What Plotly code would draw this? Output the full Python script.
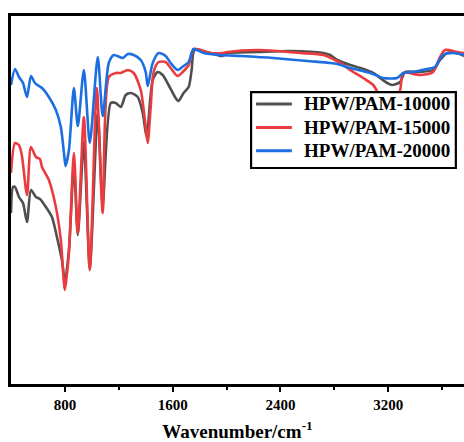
import plotly.graph_objects as go

# Wavenumber (cm^-1) and transmittance (a.u.)
wn_10000 = [400, 415, 430, 459, 489, 519, 548, 585, 615, 659, 704, 741, 778, 800, 830, 867, 896, 941, 985,
            1044, 1081, 1141, 1178, 1215, 1252, 1289, 1341, 1378, 1407, 1452, 1489, 1526, 1570, 1622, 1644,
            1681, 1719, 1741, 1763, 1881, 1970, 2007, 2230, 2474, 2719, 2770, 2822, 2919, 2993, 3089, 3193,
            3230, 3289, 3326, 3415, 3533, 3585, 3637, 3711, 3763]
t_10000 = [171, 197, 197, 187, 181, 162, 194, 187, 185, 177, 167, 147, 124, 102, 134, 219, 149, 242, 116,
           271, 179, 281, 281, 277, 289, 291, 287, 271, 247, 304, 312, 309, 299, 286, 283,
           291, 297, 314, 334, 331, 328, 331, 332, 333, 331, 329, 324, 319, 316, 311, 301,
           299, 302, 312, 312, 314, 324, 331, 331, 328]

wn_15000 = [400, 430, 459, 480, 519, 548, 585, 615, 630, 681, 733, 770, 800, 830, 867, 896, 941, 985,
            1037, 1081, 1126, 1178, 1215, 1267, 1311, 1363, 1400, 1415, 1437, 1459, 1496, 1548, 1585,
            1637, 1674, 1719, 1756, 1881, 1970, 2007, 2230, 2378, 2548, 2719, 2844, 2941, 3015, 3089,
            3141, 3190, 3250, 3289, 3311, 3437, 3533, 3585, 3622, 3711, 3763]
t_15000 = [211, 241, 239, 229, 189, 237, 227, 225, 217, 204, 177, 144, 94, 131, 231, 151, 267, 114,
           296, 171, 307, 311, 311, 314, 311, 294, 257, 241, 277, 312, 322, 322, 316,
           308, 312, 319, 335, 331, 331, 332, 334, 333, 331, 329, 321, 312, 306, 299,
           287, 279, 284, 294, 311, 309, 312, 327, 334, 332, 331]

wn_20000 = [400, 430, 459, 489, 519, 548, 578, 607, 630, 681, 733, 770, 793, 805, 830, 867, 896, 941, 985,
            1044, 1081, 1126, 1163, 1230, 1267, 1311, 1363, 1400, 1415, 1452, 1496, 1548, 1585, 1637,
            1681, 1719, 1756, 1830, 1956, 2104, 2348, 2600, 2770, 2822, 2919, 3067, 3163, 3267, 3311,
            3385, 3489, 3548, 3570, 3607, 3681, 3763]
t_20000 = [299, 315, 307, 301, 287, 308, 301, 298, 296, 287, 274, 257, 231, 218, 234, 296, 258, 314, 241,
           327, 268, 321, 329, 326, 330, 329, 324, 312, 298, 321, 331, 328, 321, 314,
           318, 322, 335, 331, 329, 328, 326, 323, 321, 320, 316, 311, 306, 306, 311,
           312, 315, 317, 322, 329, 331, 329]

names = ["HPW/PAM-10000", "HPW/PAM-15000", "HPW/PAM-20000"]
colors = ["#4f4f4f", "#ec3b3f", "#1c6fe0"]
xs = [wn_10000, wn_15000, wn_20000]
ys = [t_10000, t_15000, t_20000]

x_ticks = [800, 1600, 2400, 3200]

fig = go.Figure()
for n, c, x, y in zip(names, colors, xs, ys):
    fig.add_trace(go.Scatter(x=x, y=y, mode="lines", name=n, showlegend=False,
                             line=dict(color=c, width=2.6, shape="spline", smoothing=0.7)))

# Boxed legend (drawn to match the reference's compact row spacing)
fig.add_shape(type="rect", xref="paper", yref="paper", x0=0.530, x1=0.982, y0=0.587, y1=0.793,
              line=dict(color="black", width=2.2), fillcolor="white", layer="above")
row_y = [0.761, 0.697, 0.634]
for n, c, ry in zip(names, colors, row_y):
    fig.add_shape(type="line", xref="paper", yref="paper", x0=0.541, x1=0.620, y0=ry, y1=ry,
                  line=dict(color=c, width=3), layer="above")
    fig.add_annotation(xref="paper", yref="paper", x=0.643, y=ry, xanchor="left", yanchor="middle",
                       text=n, showarrow=False,
                       font=dict(family="Liberation Serif", size=19, color="black", weight="bold"))

fig.update_layout(
    width=464, height=442,
    margin=dict(l=11, r=0, t=16, b=58),
    plot_bgcolor="white", paper_bgcolor="white",
    showlegend=False,
    xaxis=dict(range=[400, 3763], tickvals=x_ticks, ticktext=[str(v) for v in x_ticks],
               ticks="outside", ticklen=5, tickwidth=2, tickcolor="black",
               minor=dict(tickvals=[1200, 2000, 2800, 3600], ticks="outside", ticklen=3, tickwidth=2, tickcolor="black"),
               showline=True, linecolor="black", linewidth=2.5, mirror=True,
               showgrid=False, zeroline=False,
               tickfont=dict(family="Liberation Serif", size=15, color="black", weight="bold"),
               title=dict(text="Wavenumber/cm<sup>-1</sup>", standoff=15,
                          font=dict(family="Liberation Serif", size=19, color="black", weight="bold"))),
    yaxis=dict(range=[0, 368], showticklabels=False, ticks="", showline=True, linecolor="black",
               linewidth=2.5, showgrid=False, zeroline=False),
)

fig.write_html("out.html", config={"displayModeBar": False},
               post_script="document.body.style.margin='0px';document.body.style.padding='0px';window.dispatchEvent(new Event('resize'));")
